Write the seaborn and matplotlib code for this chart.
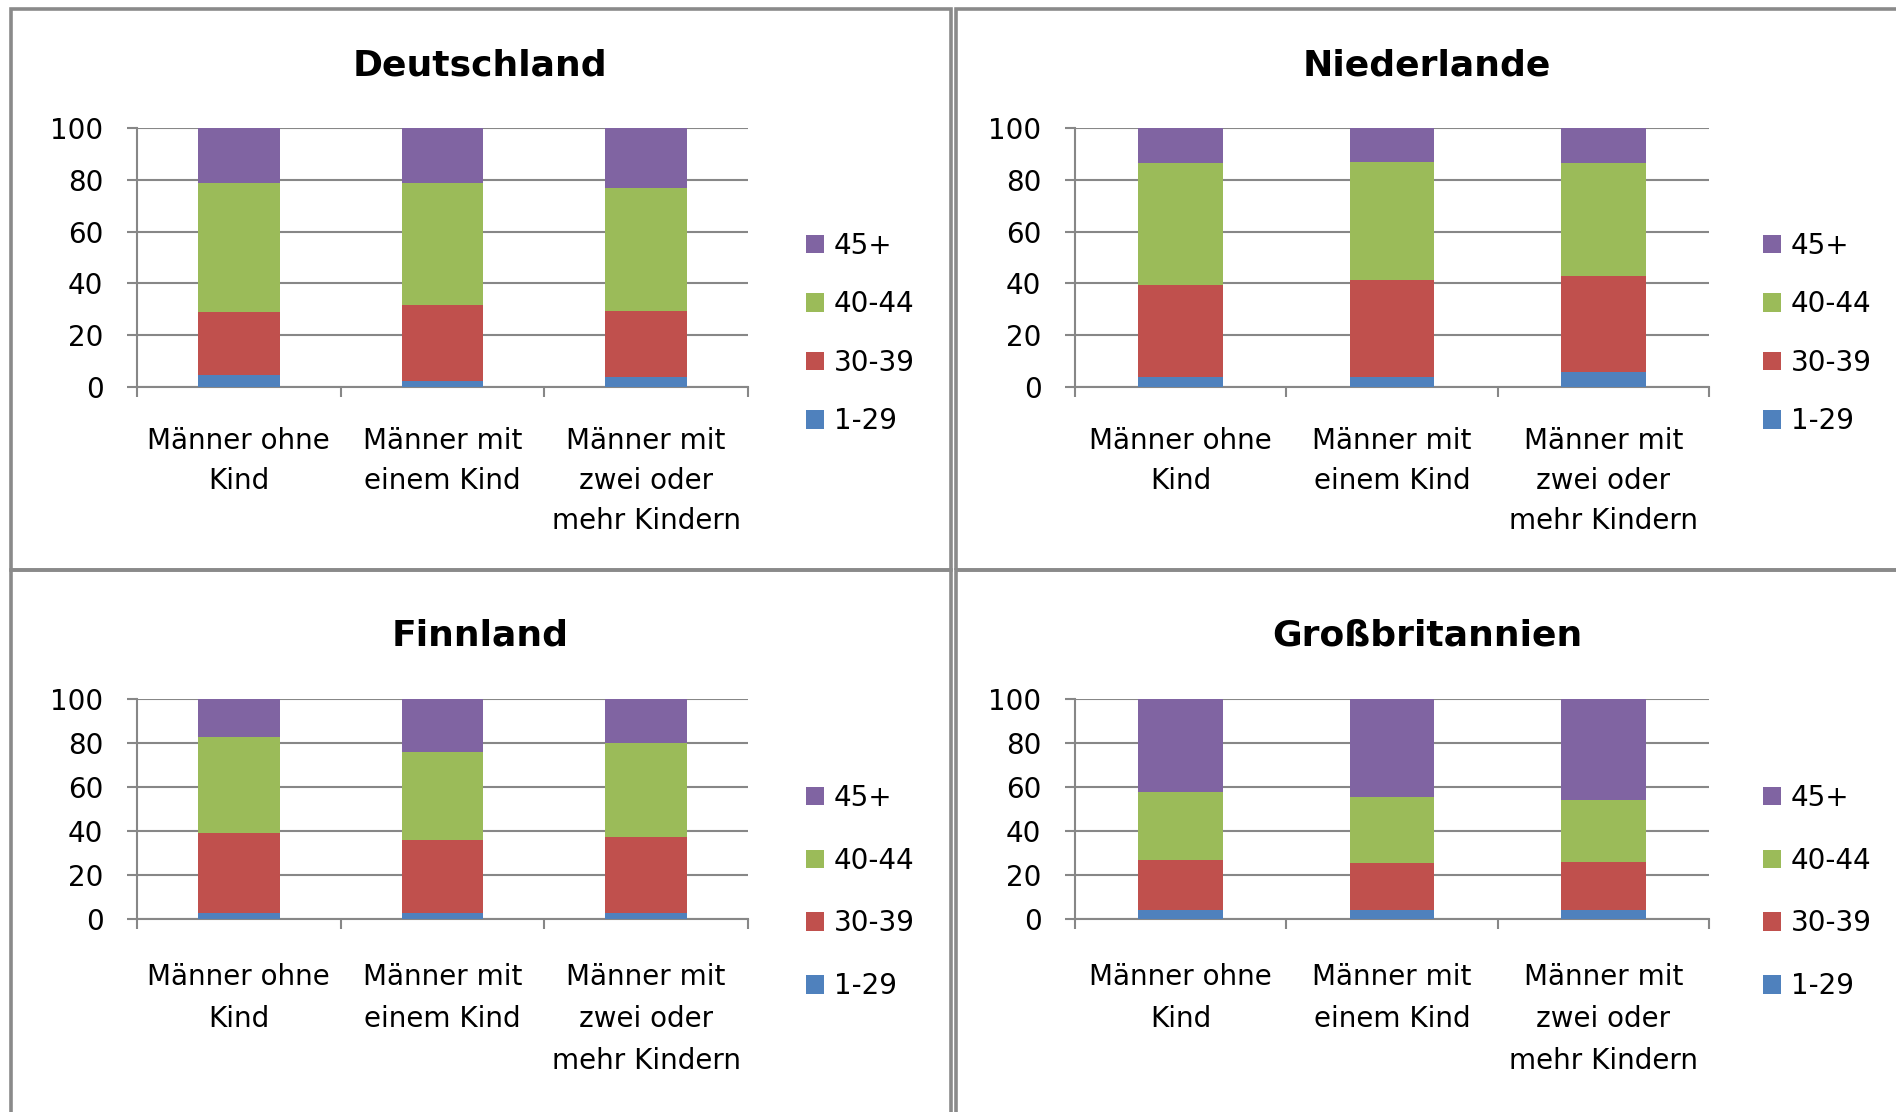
import numpy as np
import pandas as pd
import matplotlib.pyplot as plt
import seaborn as sns
from matplotlib.patches import Patch, Rectangle

# categories and series (percent shares per age group)
categories = ["Männer ohne\nKind", "Männer mit\neinem Kind", "Männer mit\nzwei oder\nmehr Kindern"]
groups = ["1-29", "30-39", "40-44", "45+"]
colors = ["#4F81BD", "#C0504D", "#9BBB59", "#8064A2"]

de_1_29 = [4.5, 2.5, 3.9]
de_30_39 = [24.3, 29.1, 25.3]
de_40_44 = [49.8, 47.0, 47.5]
de_45 = [21.4, 21.4, 23.3]

nl_1_29 = [3.9, 3.9, 5.6]
nl_30_39 = [35.6, 37.4, 37.4]
nl_40_44 = [46.8, 45.7, 43.3]
nl_45 = [13.7, 13.0, 13.7]

fi_1_29 = [2.6, 2.6, 2.6]
fi_30_39 = [36.6, 33.4, 34.7]
fi_40_44 = [43.5, 40.0, 42.5]
fi_45 = [17.3, 24.0, 20.2]

gb_1_29 = [4.0, 4.0, 4.0]
gb_30_39 = [22.9, 21.3, 22.1]
gb_40_44 = [30.9, 30.2, 27.8]
gb_45 = [42.2, 44.5, 46.1]

countries = ["Deutschland", "Niederlande", "Finnland", "Großbritannien"]
country_data = {
    "Deutschland": [de_1_29, de_30_39, de_40_44, de_45],
    "Niederlande": [nl_1_29, nl_30_39, nl_40_44, nl_45],
    "Finnland": [fi_1_29, fi_30_39, fi_40_44, fi_45],
    "Großbritannien": [gb_1_29, gb_30_39, gb_40_44, gb_45],
}

yticks = [0, 20, 40, 60, 80, 100]

sns.set_style("white")
plt.rcParams['font.family'] = ['DejaVu Sans']
plt.rcParams['text.color'] = 'black'
plt.rcParams['xtick.labelcolor'] = 'black'
plt.rcParams['ytick.labelcolor'] = 'black'

W, H = 1896, 1112
fig = plt.figure(figsize=(W / 100, H / 100), dpi=100)
GREY = '#878787'
FS = 20

def frac_box(x0, x1, ytop, ybot):
    return [x0 / W, 1 - ybot / H, (x1 - x0) / W, (ybot - ytop) / H]

# pixel layout: axes box, title anchor, legend anchor/spacing, x label pad/line spacing
layout = {
    "Deutschland": dict(box=(137, 748, 128, 387), title=(480, 76), leg=(806, 333.5), sp=1.1, pad=28.7, ls=1.54),
    "Niederlande": dict(box=(1075, 1709, 128, 387), title=(1427, 76), leg=(1763, 333.5), sp=1.1, pad=28.7, ls=1.54),
    "Finnland": dict(box=(137, 748, 699, 919), title=(480, 645), leg=(806, 892), sp=1.25, pad=32, ls=1.63),
    "Großbritannien": dict(box=(1075, 1709, 699, 919), title=(1427, 645), leg=(1763, 892), sp=1.25, pad=32, ls=1.63),
}

# panel borders
for (x0, x1, y0, y1) in [(11, 951.5, 8.5, 570), (955.5, 1910, 8.5, 570),
                         (11, 951.5, 570, 1130), (955.5, 1910, 570, 1130)]:
    fig.add_artist(Rectangle((x0 / W, 1 - y1 / H), (x1 - x0) / W, (y1 - y0) / H,
                             transform=fig.transFigure, fill=False,
                             edgecolor='#8a8a8a', linewidth=2.6))

for country in countries:
    lay = layout[country]
    ax = fig.add_axes(frac_box(*lay["box"]))
    series = country_data[country]
    cum = np.cumsum(np.array(series), axis=0)
    # stacked bars: draw cumulative totals from top down
    for i in range(len(groups) - 1, -1, -1):
        df = pd.DataFrame({"cat": categories, "val": cum[i]})
        sns.barplot(data=df, x="cat", y="val", color=colors[i], saturation=1,
                    width=0.4, errorbar=None, ax=ax, zorder=3, linewidth=0)

    ax.set_ylim(0, 100)
    ax.set_xlim(-0.5, 2.5)
    ax.set_yticks(yticks)
    ax.set_yticklabels([str(t) for t in yticks], fontsize=FS)
    ax.set_xlabel("")
    ax.set_ylabel("")
    ax.grid(axis='y', color=GREY, linewidth=1.5, zorder=0)
    ax.set_axisbelow(True)
    for s in ["top", "right"]:
        ax.spines[s].set_visible(False)
    for s in ["left", "bottom"]:
        ax.spines[s].set_color(GREY)
        ax.spines[s].set_linewidth(1.5)
    ax.tick_params(axis='y', direction='out', length=7.2, width=1.5, color=GREY, pad=17, left=True)
    ax.tick_params(axis='x', which='major', length=0, pad=lay["pad"], labelsize=FS)
    ax.set_xticks([-0.5, 0.5, 1.5, 2.5], minor=True)
    ax.tick_params(axis='x', which='minor', direction='out', length=7.2, width=1.5, color=GREY, bottom=True)
    for lbl in ax.get_xticklabels():
        lbl.set_linespacing(lay["ls"])

    handles = [Patch(facecolor=colors[i], edgecolor='none', label=groups[i]) for i in range(3, -1, -1)]
    lx, ly = lay["leg"]
    ax.legend(handles=handles, loc='center left', bbox_to_anchor=(lx / W, 1 - ly / H),
              bbox_transform=fig.transFigure, frameon=False, fontsize=FS,
              handlelength=0.65, handleheight=0.65, handletextpad=0.35,
              borderpad=0, borderaxespad=0, labelspacing=lay["sp"])

    tx, ty = lay["title"]
    fig.text(tx / W, 1 - ty / H, country, ha='center', va='baseline',
             fontsize=26, fontweight='bold')

fig.savefig("out.png", dpi=100, facecolor='white')
